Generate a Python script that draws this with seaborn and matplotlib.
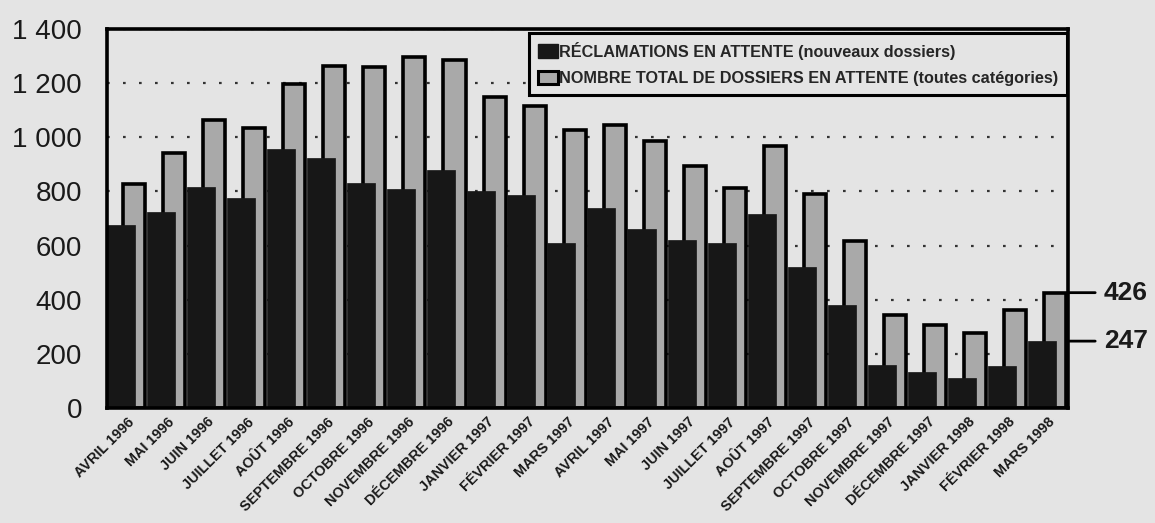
import numpy as np
import matplotlib
matplotlib.use("Agg")
import matplotlib.pyplot as plt
import seaborn as sns
from matplotlib.patches import Patch

# Monthly pending caseload, April 1996 - March 1998
months = [
    "AVRIL 1996", "MAI 1996", "JUIN 1996", "JUILLET 1996", "AOÛT 1996",
    "SEPTEMBRE 1996", "OCTOBRE 1996", "NOVEMBRE 1996", "DÉCEMBRE 1996",
    "JANVIER 1997", "FÉVRIER 1997", "MARS 1997", "AVRIL 1997", "MAI 1997",
    "JUIN 1997", "JUILLET 1997", "AOÛT 1997", "SEPTEMBRE 1997",
    "OCTOBRE 1997", "NOVEMBRE 1997", "DÉCEMBRE 1997", "JANVIER 1998",
    "FÉVRIER 1998", "MARS 1998",
]
nouveaux = [675, 724, 816, 777, 957, 924, 832, 810, 879, 801, 785, 608,
            740, 662, 621, 611, 715, 519, 380, 157, 132, 111, 154, 247]
total = [828, 942, 1065, 1034, 1195, 1265, 1259, 1296, 1286, 1147, 1114, 1026,
         1047, 988, 893, 813, 967, 789, 617, 344, 306, 276, 362, 426]
yticks = [0, 200, 400, 600, 800, 1000, 1200, 1400]
ytick_labels = ["0", "200", "400", "600", "800", "1 000", "1 200", "1 400"]
legend_labels = [
    "RÉCLAMATIONS EN ATTENTE (nouveaux dossiers)",
    "NOMBRE TOTAL DE DOSSIERS EN ATTENTE (toutes catégories)",
]

BG = "#e4e4e4"
DARK = "#171717"
GREY = "#a9a9a9"

sns.set_style("white")
plt.rcParams["font.family"] = ["Liberation Sans", "DejaVu Sans"]

fig = plt.figure(figsize=(11.55, 5.23), dpi=100, facecolor=BG)
ax = fig.add_axes([0.0926, 0.2199, 0.832, 0.7247], facecolor=BG)

idx = np.arange(len(months))

# total pending (grey, outlined) sits behind and to the right of new claims
sns.barplot(x=idx + 0.68, y=total, native_scale=True, width=0.55,
            color=GREY, saturation=1, edgecolor="black", linewidth=2.6,
            errorbar=None, ax=ax, zorder=2)
sns.barplot(x=idx + 0.35, y=nouveaux, native_scale=True, width=0.70,
            color=DARK, saturation=1, edgecolor=DARK, linewidth=0.5,
            errorbar=None, ax=ax, zorder=3)

ax.set_xlim(0, len(months))
ax.set_ylim(0, 1400)
ax.set_yticks(yticks)
ax.set_yticklabels(ytick_labels, fontsize=20)
ax.set_xticks(idx + 0.5)
ax.set_xticklabels(months, rotation=45, ha="right", rotation_mode="anchor",
                   fontsize=10.4, fontweight="bold", color="#1a1a1a")
ax.tick_params(axis="x", length=0, pad=5)
ax.tick_params(axis="y", length=4, direction="in", width=1.2, pad=18,
               labelcolor="#1a1a1a")
ax.set_xlabel("")
ax.set_ylabel("")

ax.set_axisbelow(True)
ax.yaxis.grid(True, linestyle=(0, (1.2, 6)), color="#333333", linewidth=1.6)
ax.xaxis.grid(False)
for s in ax.spines.values():
    s.set_visible(True)
    s.set_color("black")
    s.set_linewidth(2.6)
    s.set_zorder(5)

handles = [
    Patch(facecolor=DARK, edgecolor=DARK),
    Patch(facecolor=GREY, edgecolor="black", linewidth=2.2),
]
leg = ax.legend(handles, legend_labels, loc="upper right",
                bbox_to_anchor=(0.999, 0.99), borderaxespad=0, frameon=True,
                fancybox=False, facecolor=BG, edgecolor="black", framealpha=1,
                prop={"weight": "bold", "size": 11.7}, handlelength=1.2,
                handleheight=0.9, handletextpad=0.08, labelspacing=0.68,
                borderpad=0.55)
leg.get_frame().set_linewidth(2.2)
leg.set_zorder(6)

# end-of-period callouts on the right-hand side
for val in (total[-1], nouveaux[-1]):
    ax.annotate(f"{val}", xy=(len(months), val), xycoords="data",
                xytext=(26, 0), textcoords="offset points",
                ha="left", va="center", fontsize=19, fontweight="bold",
                color="#1a1a1a", annotation_clip=False,
                arrowprops=dict(arrowstyle="-", lw=2, color="black",
                                shrinkA=4, shrinkB=0))

fig.savefig("out.png", dpi=100, facecolor=BG)
